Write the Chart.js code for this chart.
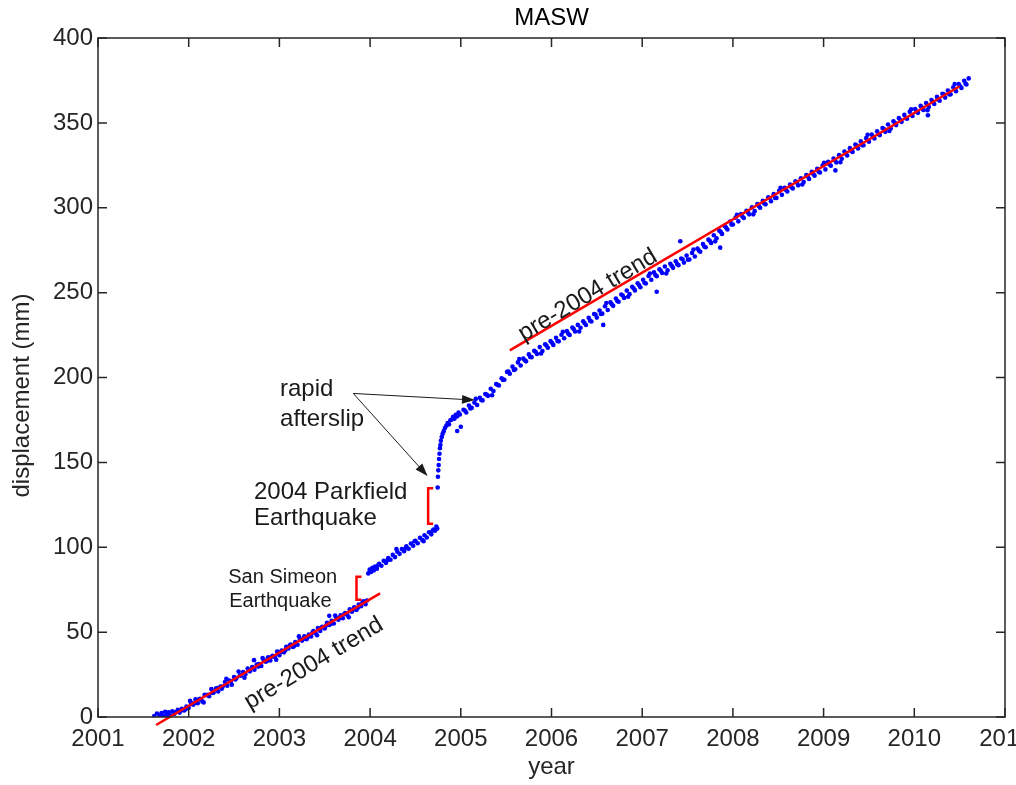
<!DOCTYPE html>
<html>
<head>
<meta charset="utf-8">
<title>MASW</title>
<script src="https://cdn.jsdelivr.net/npm/chart.js@4.4.1/dist/chart.umd.min.js"></script>
<style>
  html, body { margin: 0; background: #fff; }
  #wrap { width: 1016px; height: 785px; }
</style>
</head>
<body>
<div id="wrap"><canvas id="creepChart"></canvas></div>
<script>
// station positions as [decimal year, displacement mm]
const preSanSimeon = [
  [2001.62, 0.6], [2001.65, 2.1], [2001.68, 0.8], [2001.70, 2.4], [2001.72, 0.6], [2001.74, 3.1],
  [2001.76, 1.2], [2001.78, 2.7], [2001.80, 0.9], [2001.82, 3.4], [2001.84, 1.8], [2001.86, 2.9],
  [2001.88, 4.2], [2001.90, 2.6], [2001.925, 4.9], [2001.95, 3.8], [2001.975, 6.1], [2002.000, 5.4],
  [2002.025, 8.3], [2002.050, 7.2], [2002.075, 10.4], [2002.100, 8.1], [2002.125, 10.7], [2002.150, 9.2],
  [2002.175, 13.1], [2002.200, 12.9], [2002.225, 12.2], [2002.250, 16.4], [2002.275, 14.5], [2002.300, 16.8],
  [2002.325, 15.0], [2002.350, 18.0], [2002.375, 17.9], [2002.400, 20.6], [2002.425, 18.4], [2002.450, 21.5],
  [2002.475, 19.0], [2002.500, 23.6], [2002.525, 22.9], [2002.550, 26.8], [2002.575, 24.3], [2002.600, 26.5],
  [2002.625, 25.2], [2002.650, 28.6], [2002.675, 26.9], [2002.700, 29.4], [2002.725, 27.8], [2002.750, 30.9],
  [2002.775, 31.2], [2002.800, 30.1], [2002.825, 33.8], [2002.850, 32.6], [2002.875, 35.2], [2002.900, 33.3],
  [2002.925, 36.1], [2002.950, 35.4], [2002.975, 38.5], [2003.000, 36.4], [2003.025, 39.2], [2003.050, 38.1],
  [2003.075, 41.3], [2003.100, 40.4], [2003.125, 42.7], [2003.150, 41.2], [2003.175, 44.1], [2003.200, 42.6],
  [2003.225, 45.9], [2003.250, 45.0], [2003.275, 47.6], [2003.300, 45.8], [2003.325, 48.5], [2003.350, 47.4],
  [2003.375, 50.6], [2003.400, 49.3], [2003.425, 52.4], [2003.450, 50.7], [2003.475, 53.2], [2003.500, 52.1],
  [2003.525, 55.5], [2003.550, 54.2], [2003.575, 56.6], [2003.600, 55.1], [2003.625, 58.4], [2003.650, 57.3],
  [2003.675, 59.9], [2003.700, 58.2], [2003.725, 61.2], [2003.750, 60.1], [2003.775, 63.4], [2003.800, 62.0],
  [2003.825, 64.6], [2003.850, 63.0], [2003.875, 66.3], [2003.900, 65.2], [2003.925, 68.1], [2003.950, 66.4],
  [2003.965, 68.6],
  [2001.915, 3.9], [2001.965, 4.6], [2002.015, 9.6], [2002.065, 8.1], [2002.115, 10.4], [2002.165, 8.6],
  [2002.215, 13.1], [2002.265, 14.2], [2002.315, 17.1], [2002.365, 16.7], [2002.415, 22.5], [2002.465, 20.9],
  [2002.515, 22.1], [2002.565, 24.6], [2002.615, 23.1], [2002.665, 27.6], [2002.715, 29.0], [2002.765, 29.7],
  [2002.815, 34.7], [2002.865, 33.2], [2002.915, 35.5], [2002.965, 33.7], [2003.015, 38.3], [2003.065, 39.3],
  [2003.115, 42.2], [2003.165, 41.9], [2003.215, 47.6], [2003.265, 46.0], [2003.315, 47.3], [2003.365, 49.7],
  [2003.415, 48.2], [2003.465, 52.7], [2003.515, 53.9], [2003.565, 54.8], [2003.615, 59.8], [2003.665, 58.4],
  [2003.715, 60.6], [2003.765, 58.8], [2003.815, 63.4], [2003.865, 64.4], [2003.915, 67.3]
];

const betweenQuakes = [
  [2003.980, 84.6], [2003.995, 86.8], [2004.010, 85.4], [2004.025, 87.9], [2004.040, 86.3], [2004.055, 88.6],
  [2004.075, 87.4], [2004.100, 90.2], [2004.125, 89.1], [2004.150, 92.0], [2004.175, 90.8], [2004.200, 93.7],
  [2004.225, 92.6], [2004.250, 95.5], [2004.275, 94.2], [2004.300, 97.4], [2004.325, 96.1], [2004.350, 99.0],
  [2004.375, 97.7], [2004.400, 100.6], [2004.425, 99.1], [2004.450, 102.2], [2004.475, 100.9], [2004.500, 103.8],
  [2004.525, 102.4], [2004.550, 105.6], [2004.575, 104.2], [2004.600, 107.1], [2004.625, 105.7], [2004.650, 108.8],
  [2004.675, 107.6], [2004.700, 110.5], [2004.715, 109.7], [2004.730, 112.2], [2004.740, 111.0],
  [2004.09, 89.5], [2004.19, 92.3], [2004.29, 98.9], [2004.39, 99.4], [2004.49, 103.5], [2004.59, 103.6],
  [2004.69, 109.9]
];

const afterParkfield = [
  [2004.745, 135.2], [2004.748, 141.5], [2004.752, 145.3], [2004.756, 148.4], [2004.760, 152.0], [2004.765, 155.1],
  [2004.770, 158.3], [2004.775, 160.2], [2004.780, 162.7], [2004.790, 165.0], [2004.800, 166.9], [2004.812, 168.4],
  [2004.825, 170.2], [2004.840, 171.6], [2004.855, 173.1], [2004.870, 172.4], [2004.885, 174.8], [2004.900, 175.2],
  [2004.915, 176.9], [2004.930, 175.7], [2004.945, 178.0], [2004.960, 177.1], [2004.975, 179.3], [2004.990, 178.2],
  [2005.03, 181.0], [2005.06, 179.4], [2005.09, 183.5], [2005.12, 182.1], [2005.15, 185.2], [2005.18, 183.8],
  [2005.21, 188.1], [2005.24, 186.5], [2005.27, 190.3], [2005.30, 189.2], [2005.33, 193.4], [2005.36, 192.0],
  [2005.39, 196.1], [2005.42, 195.3], [2005.45, 199.6], [2005.48, 198.7], [2005.51, 203.3], [2005.54, 202.2],
  [2005.57, 206.4], [2005.60, 204.8], [2005.63, 208.9], [2005.66, 207.1], [2005.69, 211.2], [2005.72, 209.5],
  [2005.75, 213.6], [2005.78, 212.0], [2005.81, 215.7], [2005.84, 213.8], [2005.87, 217.9], [2005.90, 215.6],
  [2005.93, 219.6], [2005.96, 217.5], [2005.99, 221.4], [2006.02, 219.2], [2006.05, 223.4], [2006.08, 221.3],
  [2006.11, 225.2], [2006.14, 223.1], [2006.17, 227.3], [2006.20, 225.0], [2006.23, 229.4], [2006.26, 227.1],
  [2006.29, 231.0], [2006.32, 229.3], [2006.35, 233.1], [2006.38, 230.9], [2006.41, 235.2], [2006.44, 233.0],
  [2006.47, 237.4], [2006.50, 235.3], [2006.53, 239.5], [2006.56, 237.6], [2006.59, 242.0], [2006.62, 239.8],
  [2006.65, 244.3], [2006.68, 242.2], [2006.71, 246.5], [2006.74, 244.6], [2006.77, 248.9], [2006.80, 246.9],
  [2006.83, 251.2], [2006.86, 249.1], [2006.89, 253.4], [2006.92, 251.3], [2006.95, 255.5], [2006.98, 253.2],
  [2007.01, 257.6], [2007.04, 255.4], [2007.07, 259.8], [2007.10, 257.6], [2007.13, 261.9], [2007.16, 259.7],
  [2007.19, 263.8], [2007.22, 261.6], [2007.25, 265.4], [2007.28, 263.1], [2007.31, 267.0], [2007.34, 264.6],
  [2007.37, 268.5], [2007.40, 266.2], [2007.43, 270.1], [2007.46, 267.7], [2007.49, 271.8], [2007.52, 269.5],
  [2007.55, 273.4], [2007.58, 271.3], [2007.61, 276.0], [2007.64, 274.1], [2007.67, 278.6], [2007.70, 276.7],
  [2007.73, 281.2], [2007.76, 279.3], [2007.79, 283.8], [2007.82, 282.0], [2007.85, 286.5], [2007.88, 284.6],
  [2007.91, 289.3], [2007.94, 287.2], [2007.97, 291.9], [2008.00, 290.1], [2008.03, 294.2], [2008.06, 292.0],
  [2008.09, 296.3], [2008.12, 294.0], [2008.15, 298.2], [2008.18, 296.1], [2008.21, 300.3], [2008.24, 298.0],
  [2008.27, 302.2], [2008.30, 300.0], [2008.33, 304.1], [2008.36, 302.0], [2008.39, 306.2], [2008.42, 303.8],
  [2008.45, 308.0], [2008.48, 305.8], [2008.51, 310.0], [2008.54, 307.6], [2008.57, 311.8], [2008.60, 309.6],
  [2008.63, 313.7], [2008.66, 311.4], [2008.69, 315.6], [2008.72, 313.2], [2008.75, 317.4], [2008.78, 315.1],
  [2008.81, 319.3], [2008.84, 317.0], [2008.87, 321.2], [2008.90, 318.9], [2008.93, 323.0], [2008.96, 320.8],
  [2008.99, 325.0], [2009.02, 322.6], [2009.05, 327.0], [2009.08, 324.7], [2009.11, 329.0], [2009.14, 326.7],
  [2009.17, 331.0], [2009.20, 328.8], [2009.23, 333.1], [2009.26, 330.8], [2009.29, 335.1], [2009.32, 332.8],
  [2009.35, 337.2], [2009.38, 334.9], [2009.41, 339.1], [2009.44, 336.8], [2009.47, 341.0], [2009.50, 338.9],
  [2009.53, 343.1], [2009.56, 340.8], [2009.59, 345.0], [2009.62, 342.8], [2009.65, 347.0], [2009.68, 344.7],
  [2009.71, 349.0], [2009.74, 346.7], [2009.77, 351.0], [2009.80, 348.7], [2009.83, 352.9], [2009.86, 350.6],
  [2009.89, 354.7], [2009.92, 352.4], [2009.95, 356.5], [2009.98, 354.1], [2010.01, 358.2], [2010.04, 355.9],
  [2010.07, 360.0], [2010.10, 357.6], [2010.13, 361.7], [2010.16, 359.4], [2010.19, 363.5], [2010.22, 361.1],
  [2010.25, 365.3], [2010.28, 363.0], [2010.31, 367.2], [2010.34, 364.9], [2010.37, 369.1], [2010.40, 366.8],
  [2010.43, 371.0], [2010.46, 368.7], [2010.49, 372.9], [2010.52, 370.6], [2010.55, 374.8], [2010.575, 372.6],
  [2010.60, 376.2],
  [2005.045, 180.5], [2005.105, 181.8], [2005.165, 187.4], [2005.225, 186.8], [2005.285, 189.9], [2005.345, 189.5],
  [2005.405, 195.7], [2005.465, 198.6], [2005.525, 203.5], [2005.585, 204.4], [2005.645, 210.9], [2005.705, 210.2],
  [2005.765, 212.1], [2005.825, 215.2], [2005.885, 214.1], [2005.945, 218.8], [2006.005, 220.5], [2006.065, 221.5],
  [2006.125, 226.9], [2006.185, 225.8], [2006.245, 228.5], [2006.305, 227.1], [2006.365, 232.0], [2006.425, 233.5],
  [2006.485, 237.1], [2006.545, 237.4], [2006.605, 243.9], [2006.665, 243.1], [2006.725, 245.1], [2006.785, 248.3],
  [2006.845, 247.6], [2006.905, 252.6], [2006.965, 254.5], [2007.025, 255.8], [2007.085, 261.3], [2007.145, 260.4],
  [2007.205, 262.9], [2007.265, 261.3], [2007.325, 265.8], [2007.385, 266.8], [2007.445, 269.7], [2007.505, 269.4],
  [2007.565, 275.4], [2007.625, 274.8], [2007.685, 277.1], [2007.745, 280.6], [2007.805, 280.2], [2007.865, 285.8],
  [2007.925, 288.4], [2007.985, 290.2], [2008.045, 295.8], [2008.105, 294.8], [2008.165, 297.3], [2008.225, 296.1],
  [2008.285, 301.1], [2008.345, 302.5], [2008.405, 305.7], [2008.465, 305.7], [2008.525, 311.8], [2008.585, 310.5],
  [2008.645, 312.1], [2008.705, 314.9], [2008.765, 313.7], [2008.825, 318.4], [2008.885, 320.0], [2008.945, 321.2],
  [2009.005, 326.5], [2009.065, 325.5], [2009.125, 328.0], [2009.185, 326.8], [2009.245, 331.9], [2009.305, 333.4],
  [2009.365, 336.7], [2009.425, 336.8], [2009.485, 343.0], [2009.545, 341.8], [2009.605, 343.4], [2009.665, 346.3],
  [2009.725, 345.2], [2009.785, 350.1], [2009.845, 351.7], [2009.905, 352.8], [2009.965, 358.0], [2010.025, 356.7],
  [2010.085, 359.0], [2010.145, 357.5], [2010.205, 362.3], [2010.265, 363.6], [2010.325, 366.8], [2010.385, 366.8],
  [2010.445, 372.9], [2010.505, 371.6], [2010.565, 373.1]
];

// isolated readings off the main band
const strayPoints = [
  [2002.72, 33.5], [2003.55, 59.6], [2004.96, 168.5], [2005.00, 171.0], [2006.57, 231.0],
  [2007.16, 250.5], [2007.42, 280.3], [2007.86, 276.5], [2009.13, 322.0], [2010.15, 354.5]
];

// pre-2004 creep trend, before the quakes and shifted after them
const trendEarly = [[2001.64, -4.7], [2004.11, 72.8]];
const trendLate = [[2005.54, 216.0], [2010.50, 371.6]];

// coseismic offsets (mm)
const sanSimeonStep = { year: 2003.85, from: 69.0, to: 82.6 };
const parkfieldStep = { year: 2004.64, from: 113.8, to: 134.8 };

// arrows from the "rapid afterslip" label
const afterslipFrom = [2003.815, 190.6];
const afterslipTips = [[2005.157, 186.7], [2004.634, 141.9]];

const yearTicks = [2001, 2002, 2003, 2004, 2005, 2006, 2007, 2008, 2009, 2010, 2011];
const displacementTicks = [0, 50, 100, 150, 200, 250, 300, 350, 400];

const FONT = '"Liberation Sans", Arial, Helvetica, sans-serif';
const INK = '#262626';

const toXY = ([x, y]) => ({ x, y });
const bracket = (s) => [
  [s.year + 0.055, s.to], [s.year, s.to], [s.year, s.from], [s.year + 0.055, s.from]
].map(toXY);

const notes = [
  { text: 'rapid', at: [2003.007, 189.3], size: 24 },
  { text: 'afterslip', at: [2003.007, 171.4], size: 24 },
  { text: '2004 Parkfield', at: [2002.72, 128.7], size: 24 },
  { text: 'Earthquake', at: [2002.72, 113.1], size: 24 },
  { text: 'San Simeon', at: [2002.436, 78.9], size: 20 },
  { text: 'Earthquake', at: [2002.447, 65.0], size: 20 },
  { text: 'pre-2004 trend', at: [2003.38, 31.5], size: 24, angle: -31 },
  { text: 'pre-2004 trend', at: [2006.40, 248.5], size: 24, angle: -31 }
];

const annotate = {
  id: 'annotate',
  afterDatasetsDraw(chart) {
    const { ctx, chartArea: a, scales: { x, y } } = chart;
    const px = ([u, v]) => [x.getPixelForValue(u), y.getPixelForValue(v)];
    ctx.save();

    // box and inward ticks on all four sides
    ctx.strokeStyle = INK;
    ctx.lineWidth = 1.5;
    ctx.strokeRect(a.left, a.top, a.right - a.left, a.bottom - a.top);
    ctx.beginPath();
    yearTicks.forEach(v => {
      const p = x.getPixelForValue(v);
      ctx.moveTo(p, a.bottom); ctx.lineTo(p, a.bottom - 9);
      ctx.moveTo(p, a.top); ctx.lineTo(p, a.top + 9);
    });
    displacementTicks.forEach(v => {
      const p = y.getPixelForValue(v);
      ctx.moveTo(a.left, p); ctx.lineTo(a.left + 9, p);
      ctx.moveTo(a.right, p); ctx.lineTo(a.right - 9, p);
    });
    ctx.stroke();

    // afterslip arrows
    const [ox, oy] = px(afterslipFrom);
    ctx.strokeStyle = '#1a1a1a';
    ctx.fillStyle = '#1a1a1a';
    ctx.lineWidth = 1;
    afterslipTips.forEach(tip => {
      const [tx, ty] = px(tip);
      const ang = Math.atan2(ty - oy, tx - ox);
      ctx.beginPath();
      ctx.moveTo(ox, oy);
      ctx.lineTo(tx - 10 * Math.cos(ang), ty - 10 * Math.sin(ang));
      ctx.stroke();
      ctx.beginPath();
      ctx.moveTo(tx, ty);
      ctx.lineTo(tx - 13 * Math.cos(ang) + 4.5 * Math.sin(ang), ty - 13 * Math.sin(ang) - 4.5 * Math.cos(ang));
      ctx.lineTo(tx - 13 * Math.cos(ang) - 4.5 * Math.sin(ang), ty - 13 * Math.sin(ang) + 4.5 * Math.cos(ang));
      ctx.closePath();
      ctx.fill();
    });

    // text labels
    notes.forEach(n => {
      const [tx, ty] = px(n.at);
      ctx.font = n.size + 'px ' + FONT;
      ctx.fillStyle = '#1a1a1a';
      if (n.angle) {
        ctx.save();
        ctx.translate(tx, ty);
        ctx.rotate(n.angle * Math.PI / 180);
        ctx.textAlign = 'center';
        ctx.textBaseline = 'middle';
        ctx.fillText(n.text, 0, 0);
        ctx.restore();
      } else {
        ctx.textAlign = 'left';
        ctx.textBaseline = 'alphabetic';
        ctx.fillText(n.text, tx, ty);
      }
    });

    // y axis title
    ctx.save();
    ctx.translate(22, (a.top + a.bottom) / 2 + 18);
    ctx.rotate(-Math.PI / 2);
    ctx.font = '24px ' + FONT;
    ctx.fillStyle = INK;
    ctx.textAlign = 'center';
    ctx.textBaseline = 'middle';
    ctx.fillText('displacement (mm)', 0, 0);
    ctx.restore();

    ctx.restore();
  }
};

const red = (data, extra) => Object.assign({
  type: 'line', data, showLine: true, borderColor: '#ff0000', borderWidth: 2.5,
  pointRadius: 0, fill: false, tension: 0, order: 0
}, extra);

new Chart(document.getElementById('creepChart'), {
  type: 'scatter',
  data: {
    datasets: [
      red(trendEarly.map(toXY), { clip: false }),
      red(trendLate.map(toXY)),
      red(bracket(sanSimeonStep)),
      red(bracket(parkfieldStep)),
      {
        label: 'MASW',
        data: preSanSimeon.concat(betweenQuakes, afterParkfield, strayPoints).map(toXY),
        backgroundColor: '#0000ff',
        borderWidth: 0,
        pointRadius: 2.3,
        pointHoverRadius: 2.3,
        order: 1
      }
    ]
  },
  options: {
    responsive: true,
    maintainAspectRatio: false,
    animation: false,
    events: [],
    layout: { padding: { left: 0, right: 11, top: 0, bottom: 0 } },
    plugins: {
      legend: { display: false },
      tooltip: { enabled: false },
      title: {
        display: true,
        text: 'MASW',
        fullSize: false,
        color: '#000',
        font: { family: FONT, size: 24, weight: 'normal' },
        padding: { top: 4, bottom: 5.2 }
      }
    },
    scales: {
      x: {
        type: 'linear',
        min: 2001,
        max: 2011,
        grid: { display: false, drawTicks: false },
        border: { display: false },
        ticks: {
          stepSize: 1,
          padding: 8,
          color: INK,
          font: { family: FONT, size: 24 },
          maxRotation: 0,
          callback: v => String(v)
        },
        title: {
          display: true,
          text: 'year',
          color: INK,
          font: { family: FONT, size: 24 },
          padding: { top: 0, bottom: 3 }
        },
        afterFit: s => { s.height = 68; s.paddingLeft = 0; s.paddingRight = 0; }
      },
      y: {
        min: 0,
        max: 400,
        grid: { display: false, drawTicks: false },
        border: { display: false },
        ticks: {
          stepSize: 50,
          padding: 5,
          color: INK,
          font: { family: FONT, size: 24 }
        },
        afterFit: s => { s.width = 98; }
      }
    }
  },
  plugins: [annotate]
});
</script>
</body>
</html>
